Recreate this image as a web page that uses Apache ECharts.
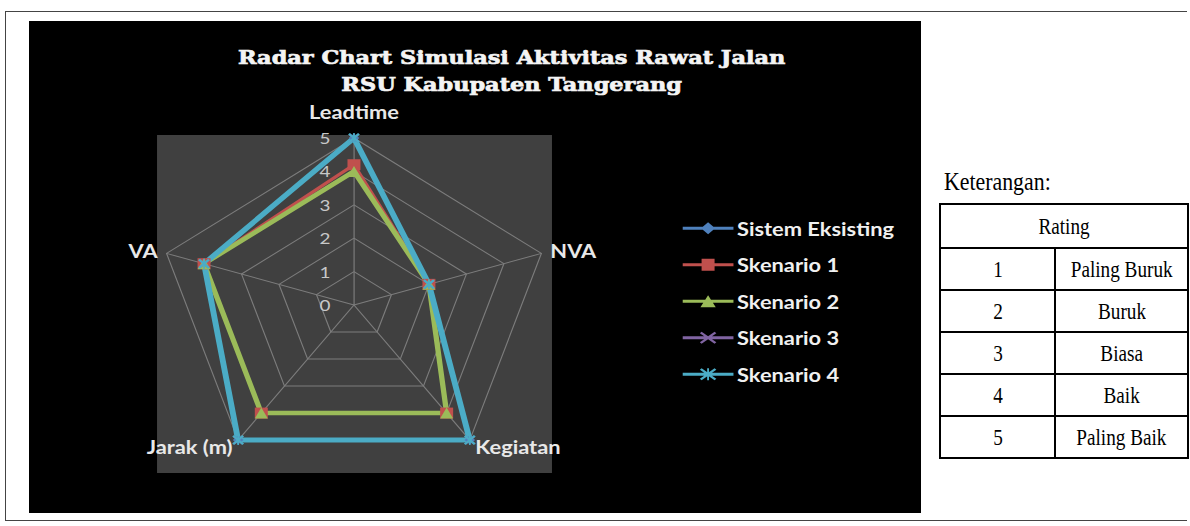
<!DOCTYPE html>
<html>
<head>
<meta charset="utf-8">
<script src="https://cdn.jsdelivr.net/npm/echarts@6/dist/echarts.min.js"></script>
<style>
  html, body { margin:0; padding:0; background:#fff; width:1190px; height:526px; overflow:hidden; }
  #frame { position:absolute; left:5px; top:11px; width:1182px; height:510px; border-top:1.5px solid #444; border-left:1.5px solid #444; border-bottom:1.5px solid #444; box-sizing:border-box; }
  #chart { position:absolute; left:29px; top:21px; width:756px; height:492px; transform:scaleX(1.18); transform-origin:0 0; }
  #keter { position:absolute; left:944px; top:167px; font-family:'Liberation Serif'; font-size:26px; line-height:30px; transform:scaleX(0.84); transform-origin:left center; white-space:nowrap; color:#000; }
  #legendTable { position:absolute; left:939px; top:203px; border-collapse:collapse; font-family:'Liberation Serif'; font-size:24px; color:#000; }
  #legendTable td { border:2px solid #000; padding:0; text-align:center; height:40px; }
  #legendTable td span { display:inline-block; transform:scaleX(0.8); white-space:nowrap; }
  #legendTable tr.head td { height:42px; }
</style>
</head>
<body>
<div id="frame"></div>
<div id="chart"></div>
<div id="keter"></div>
<table id="legendTable"></table>
<script>
// ---- data ----
const titleLines = ['Radar Chart Simulasi Aktivitas Rawat Jalan', 'RSU Kabupaten Tangerang'];
// indicators in ECharts (counter-clockwise) order starting at top
const categories = ['Leadtime', 'VA', 'Jarak (m)', 'Kegiatan', 'NVA'];
const ratingTicks = ['0', '1', '2', '3', '4', '5'];
const seriesNames = ['Sistem Eksisting', 'Skenario 1', 'Skenario 2', 'Skenario 3', 'Skenario 4'];
const sistemEksisting = [5, 4, 5, 5, 2];
const skenario1 = [4.2, 4, 4, 4, 2];
const skenario2 = [4, 4, 4, 4, 2];
const skenario3 = [5, 4, 5, 5, 2];
const skenario4 = [5, 4, 5, 5, 2];
const ketTitle = 'Keterangan:';
const ratingHeader = 'Rating';
const ratingValues = ['1', '2', '3', '4', '5'];
const ratingDesc = ['Paling Buruk', 'Buruk', 'Biasa', 'Baik', 'Paling Baik'];

// ---- table ----
document.getElementById('keter').textContent = ketTitle;
const tbl = document.getElementById('legendTable');
let html = '<tr class="head"><td colspan="2" style="width:246px"><span>' + ratingHeader + '</span></td></tr>';
ratingValues.forEach((v, i) => {
  html += '<tr><td style="width:113px"><span>' + v + '</span></td><td style="width:131px"><span>' + ratingDesc[i] + '</span></td></tr>';
});
tbl.innerHTML = html;

// ---- chart ----
const colors = ['#4F81BD', '#C0504D', '#9BBB59', '#8064A2', '#4BACC6'];
const valuesList = [sistemEksisting, skenario1, skenario2, skenario3, skenario4];
const lineWidths = [3, 3, 4.5, 3, 5];
const xPath = 'path://M1.5,0L5,3.5L8.5,0L10,1.5L6.5,5L10,8.5L8.5,10L5,6.5L1.5,10L0,8.5L3.5,5L0,1.5Z';
const starPath = 'path://M1.5,0L5,3.5L8.5,0L10,1.5L6.5,5L10,8.5L8.5,10L5,6.5L1.5,10L0,8.5L3.5,5L0,1.5Z M4.3,0H5.7V10H4.3Z';
const symbols = ['diamond', 'rect', 'triangle', xPath, starPath];
const symbolSizes = [9, 11, 11, 9, 10];
const legendLine = 'M0,4.5H43V7.5H0Z ';
const legendIcons = [
  'path://' + legendLine + 'M21.5,0L27.5,6L21.5,12L15.5,6Z',
  'path://' + legendLine + 'M16,0H27V12H16Z',
  'path://' + legendLine + 'M21.5,0L28,12H15Z',
  'path://' + legendLine + 'M16,0L21.5,4.5L27,0L28.5,1.5L23,6L28.5,10.5L27,12L21.5,7.5L16,12L14.5,10.5L20,6L14.5,1.5Z',
  'path://' + legendLine + 'M16,0L21.5,4.5L27,0L28.5,1.5L23,6L28.5,10.5L27,12L21.5,7.5L16,12L14.5,10.5L20,6L14.5,1.5Z M20.7,0H22.3V12H20.7Z'
];
const maxVal = Number(ratingTicks[ratingTicks.length - 1]);

const chart = echarts.init(document.getElementById('chart'), null, { renderer: 'svg' });
chart.setOption({
  backgroundColor: '#000',
  animation: false,
  title: {
    text: titleLines.join('\n'),
    left: 404, top: 18, textAlign: 'center',
    textStyle: { color: '#f4f4f4', fontFamily: 'DejaVu Serif', fontWeight: 'bold', fontSize: 19, lineHeight: 27,
                 textBorderColor: '#f4f4f4', textBorderWidth: 0.7 }
  },
  graphic: [{
    type: 'rect', z: -10, silent: true,
    shape: { x: 108.5, y: 114, width: 334.7, height: 338 },
    style: { fill: '#404040' }
  }],
  legend: {
    orient: 'vertical', left: 549, top: 192,
    itemWidth: 43, itemHeight: 12, itemGap: 16,
    selectedMode: false,
    data: seriesNames.map((n, i) => ({ name: n, icon: legendIcons[i] })),
    textStyle: { color: '#f0f0f0', fontFamily: 'Lato', fontWeight: 'bold', fontSize: 18.5, lineHeight: 20.5, padding: [0, 0, 0, -2] }
  },
  grid: { left: 275.4, top: 117, width: 10, height: 167, show: false },
  xAxis: { type: 'value', show: false },
  yAxis: {
    type: 'category', data: ratingTicks, boundaryGap: false,
    axisLine: { show: false }, axisTick: { show: false }, splitLine: { show: false },
    axisLabel: { color: '#c8c8c8', fontFamily: 'Lato', fontSize: 16, margin: 20 }
  },
  radar: {
    center: [275.4, 284], radius: 167, startAngle: 90, splitNumber: 5, shape: 'polygon',
    indicator: categories.map(c => ({ name: c, min: 0, max: maxVal })),
    nameGap: 8,
    axisName: {
      color: '#e8e8e8', fontFamily: 'Lato', fontWeight: 'bold', fontSize: 18.5,
      formatter: (name) => name === categories[0] ? '{top|' + name + '}' : name,
      rich: { top: { color: '#e8e8e8', fontFamily: 'Lato', fontWeight: 'bold', fontSize: 18.5, padding: [0, 0, 9, 0] } }
    },
    splitLine: { lineStyle: { color: '#7c7c7c', width: 1 } },
    splitArea: { show: false },
    axisLine: { lineStyle: { color: '#7c7c7c', width: 1 } },
    axisTick: { show: false },
    axisLabel: { show: false }
  },
  series: seriesNames.map((n, i) => ({
    type: 'radar', name: n,
    symbol: symbols[i], symbolSize: symbolSizes[i],
    lineStyle: { color: colors[i], width: lineWidths[i] },
    itemStyle: { color: colors[i] },
    data: [{ name: n, value: valuesList[i] }]
  }))
});
</script>
</body>
</html>
